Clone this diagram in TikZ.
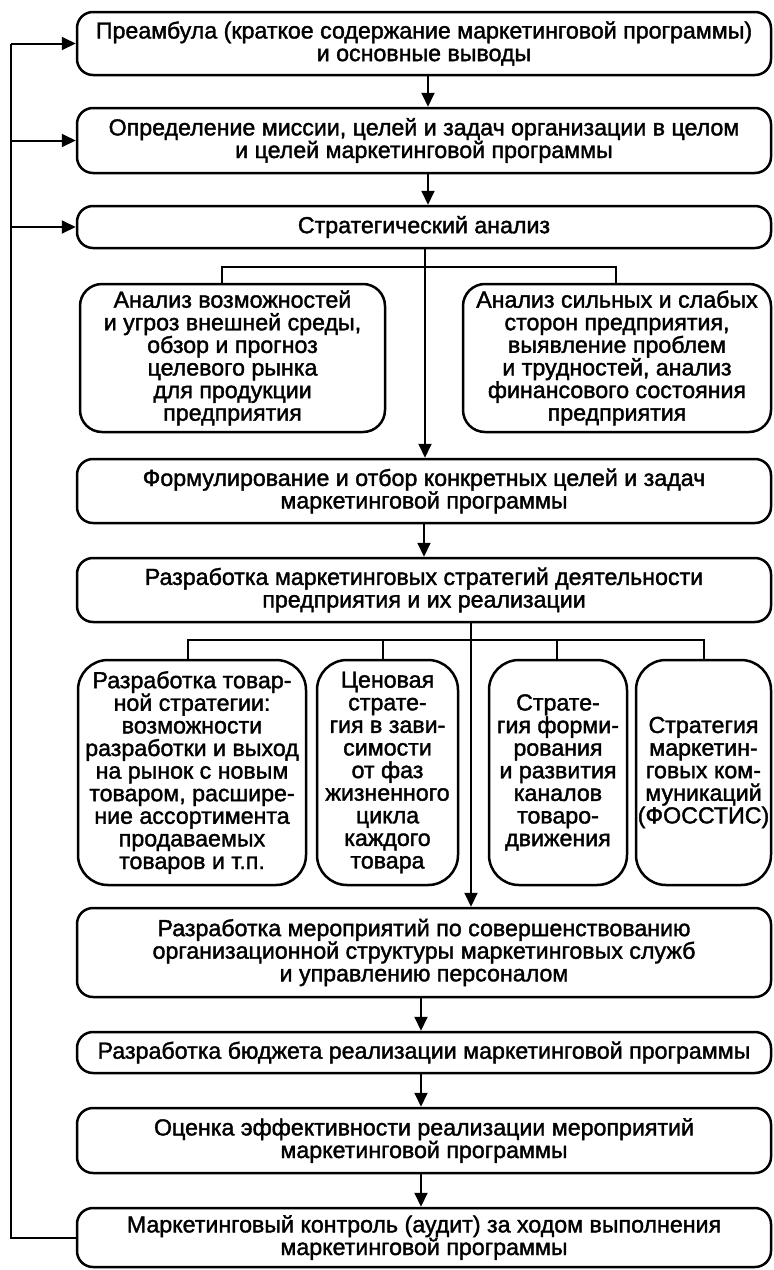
\documentclass[tikz,border=0pt]{standalone}
\usepackage{fontspec}
\setmainfont[FakeBold=1.6]{Liberation Sans}
\usetikzlibrary{arrows.meta}
\newcommand{\dfs}{\fontsize{11.6}{11.3}\selectfont}
\begin{document}
\begin{tikzpicture}[x=0.5pt,y=-0.5pt,
  box/.style={draw, line width=1.25pt, rounded corners=8pt, align=center, inner sep=0pt, font=\dfs},
  tallbox/.style={box, rounded corners=11pt},
  colbox/.style={box, rounded corners=15pt},
  arr/.style={-{Triangle[length=7pt,width=6.5pt]}, line width=1pt},
  ln/.style={line width=1pt}]
\useasboundingbox (0,0) rectangle (774,1270);
\fill[white] (0,0) rectangle (774,1270);

% main boxes
\node[box, minimum width=347pt, minimum height=31.5pt] (s1) at (424,43.5)
  {Преамбула (краткое содержание маркетинговой программы)\\ и основные выводы};
\node[box, minimum width=347pt, minimum height=32.5pt] (s2) at (424,140.5)
  {Определение миссии, целей и задач организации в целом\\ и целей маркетинговой программы};
\node[box, minimum width=347pt, minimum height=21pt] (s3) at (424,227)
  {Стратегический анализ};
\node[tallbox, minimum width=152.5pt, minimum height=74pt] (a1) at (232.5,358)
  {Анализ возможностей\\ и угроз внешней среды,\\ обзор и прогноз\\ целевого рынка\\ для продукции\\ предприятия};
\node[tallbox, minimum width=154pt, minimum height=74pt] (a2) at (617,358)
  {Анализ сильных и слабых\\ сторон предприятия,\\ выявление проблем\\ и трудностей, анализ\\ финансового состояния\\ предприятия};
\node[box, minimum width=347pt, minimum height=32pt] (s5) at (424,491)
  {Формулирование и отбор конкретных целей и задач\\ маркетинговой программы};
\node[box, minimum width=347pt, minimum height=32pt] (s6) at (424,590)
  {Разработка маркетинговых стратегий деятельности\\ предприятия и их реализации};
\node[colbox, minimum width=114pt, minimum height=112.5pt] (A) at (192,772.5)
  {Разработка товар-\\ ной стратегии:\\ возможности\\ разработки и выход\\ на рынок с новым\\ товаром, расшире-\\ ние ассортимента\\ продаваемых\\ товаров и т.п.};
\node[colbox, minimum width=70.5pt, minimum height=112.5pt] (B) at (387.5,772.5)
  {Ценовая\\ страте-\\ гия в зави-\\ симости\\ от фаз\\ жизненного\\ цикла\\ каждого\\ товара};
\node[colbox, minimum width=69pt, minimum height=112.5pt] (C) at (558,772.5)
  {Страте-\\ гия форми-\\ рования\\ и развития\\ каналов\\ товаро-\\ движения};
\node[colbox, minimum width=67.5pt, minimum height=112.5pt] (D) at (703.5,772.5)
  {Стратегия\\ маркетин-\\ говых ком-\\ муникаций\\ (ФОССТИС)};
\node[box, minimum width=347pt, minimum height=44.5pt] (s7) at (424,952.5)
  {Разработка мероприятий по совершенствованию\\ организационной структуры маркетинговых служб\\ и управлению персоналом};
\node[box, minimum width=347pt, minimum height=20.5pt] (s8) at (424,1052.5)
  {Разработка бюджета реализации маркетинговой программы};
\node[box, minimum width=347pt, minimum height=32.5pt] (s9) at (424,1140.5)
  {Оценка эффективности реализации мероприятий\\ маркетинговой программы};
\node[box, minimum width=347pt, minimum height=29.5pt] (s10) at (424,1237.5)
  {Маркетинговый контроль (аудит) за ходом выполнения\\ маркетинговой программы};

% guide coordinates
\coordinate (c1) at (428,0);
\coordinate (m1) at (425,0);
\coordinate (c2) at (424,0);
\coordinate (m2) at (471,0);
\coordinate (c3) at (421,0);
\coordinate (bus1) at (0,267);
\coordinate (d1) at (222,0);
\coordinate (d2) at (616,0);
\coordinate (bus2) at (0,640);
\coordinate (e1) at (188,0);
\coordinate (e2) at (383,0);
\coordinate (e3) at (557,0);
\coordinate (e4) at (704,0);
\coordinate (fb) at (11,0);

% vertical flow
\draw[arr] (s1.south -| c1) -- (s2.north -| c1);
\draw[arr] (s2.south -| c1) -- (s3.north -| c1);
\draw[arr] (s3.south -| m1) -- (s5.north -| m1);
\draw[arr] (s5.south -| c2) -- (s6.north -| c2);
\draw[arr] (s6.south -| m2) -- (s7.north -| m2);
\draw[arr] (s7.south -| c3) -- (s8.north -| c3);
\draw[arr] (s8.south -| c3) -- (s9.north -| c3);
\draw[arr] (s9.south -| c3) -- (s10.north -| c3);

% branch under strategic analysis
\draw[ln] (a1.north -| d1) -- (bus1 -| d1) -- (bus1 -| d2) -- (a2.north -| d2);

% branch under strategies
\draw[ln] (A.north -| e1) -- (bus2 -| e1) -- (bus2 -| e4) -- (D.north -| e4);
\draw[ln] (B.north -| e2) -- (bus2 -| e2);
\draw[ln] (C.north -| e3) -- (bus2 -| e3);

% feedback loop
\draw[ln] (s10.west) -- (fb |- s10.west) -- (fb |- s1.west);
\draw[arr] (fb |- s1.west) -- (s1.west);
\draw[arr] (fb |- s2.west) -- (s2.west);
\draw[arr] (fb |- s3.west) -- (s3.west);
\end{tikzpicture}
\end{document}
